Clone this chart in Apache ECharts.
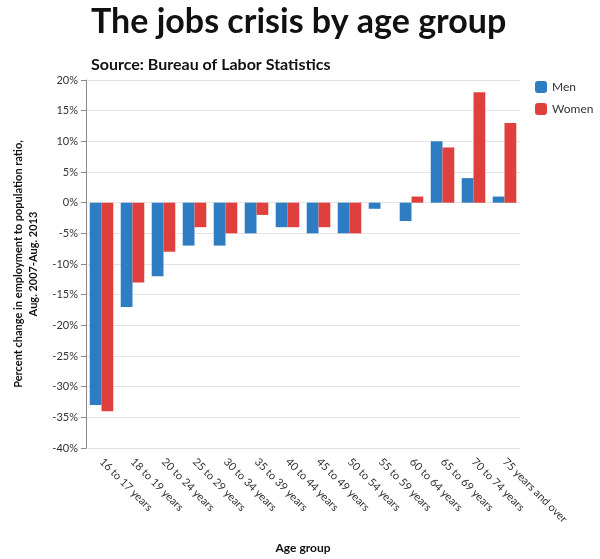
<!DOCTYPE html>
<html>
<head>
<meta charset="utf-8">
<script src="https://cdn.jsdelivr.net/npm/echarts@6/dist/echarts.min.js"></script>
<style>html,body{margin:0;padding:0;background:#fff}#chart{width:600px;height:559px}</style>
</head>
<body>
<div id="chart"></div>
<script>
const ageGroups = ['16 to 17 years', '18 to 19 years', '20 to 24 years', '25 to 29 years',
  '30 to 34 years', '35 to 39 years', '40 to 44 years', '45 to 49 years', '50 to 54 years',
  '55 to 59 years', '60 to 64 years', '65 to 69 years', '70 to 74 years', '75 years and over'];
const men = [-33, -17, -12, -7, -7, -5, -4, -5, -5, -1, -3, 10, 4, 1];
const women = [-34, -13, -8, -4, -5, -2, -4, -4, -5, 0, 1, 9, 18, 13];

const chart = echarts.init(document.getElementById('chart'));
chart.setOption({
  animation: false,
  textStyle: { fontFamily: 'Lato' },
  title: [
    { text: 'The jobs crisis by age group', left: 86, top: 0,
      textStyle: { fontSize: 34, fontWeight: 'bold', color: '#111' } },
    { text: 'Source: Bureau of Labor Statistics', left: 86, top: 52,
      textStyle: { fontSize: 16, fontWeight: 'bold', color: '#111' } }
  ],
  legend: {
    orient: 'vertical', left: 530, top: 76, itemWidth: 12, itemHeight: 12, itemGap: 10,
    textStyle: { fontSize: 12, color: '#333' },
    data: ['Men', 'Women']
  },
  grid: { left: 86, right: 80, top: 80, bottom: 108 },
  xAxis: {
    type: 'category', data: ageGroups,
    name: 'Age group', nameLocation: 'middle', nameGap: 94,
    nameTextStyle: { fontSize: 12, fontWeight: 'bold', color: '#111' },
    axisTick: { show: false },
    axisLine: { show: false },
    axisLabel: { rotate: -45, interval: 0, fontSize: 11, color: '#333', margin: 12 }
  },
  yAxis: {
    type: 'value', min: -40, max: 20, interval: 5,
    name: 'Percent change in employment to population ratio,\nAug. 2007-Aug. 2013',
    nameLocation: 'middle', nameGap: 44, nameRotate: 90,
    nameTextStyle: { fontSize: 11, fontWeight: 'bold', color: '#111', lineHeight: 15 },
    axisLine: { show: true, lineStyle: { color: '#888' } },
    axisTick: { show: true, lineStyle: { color: '#888' } },
    axisLabel: { formatter: '{value}%', fontSize: 11, color: '#333' },
    splitLine: { lineStyle: { color: '#e4e4e4' } }
  },
  series: [
    { name: 'Men', type: 'bar', data: men, barWidth: '38%', barGap: '0%',
      itemStyle: { color: '#2e7cc2' } },
    { name: 'Women', type: 'bar', data: women, barWidth: '38%',
      itemStyle: { color: '#e0403d' } }
  ]
});
</script>
</body>
</html>
